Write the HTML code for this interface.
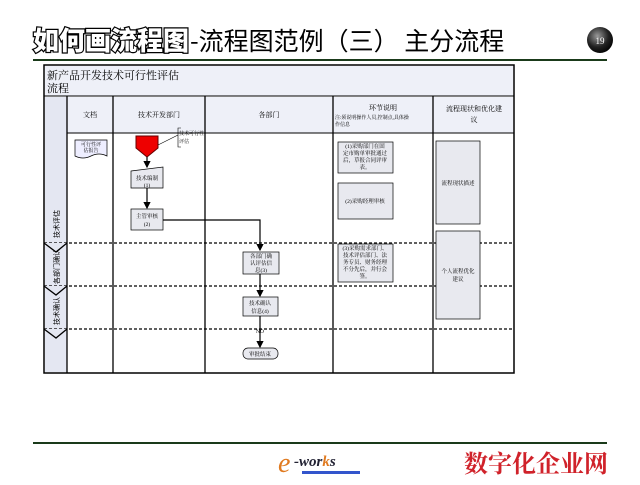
<!DOCTYPE html>
<html><head><meta charset="utf-8"><style>
body{margin:0;width:640px;height:480px;background:#fff;overflow:hidden;font-family:"Liberation Sans","Noto Sans CJK SC",sans-serif}
</style></head><body>
<svg width="640" height="480" xmlns="http://www.w3.org/2000/svg" font-family="Liberation Serif, Noto Serif CJK SC, serif">
<defs><marker id="a" markerWidth="6" markerHeight="6" refX="5" refY="3" orient="auto"><path d="M0,0L6,3L0,6z" fill="#000"/></marker>
<radialGradient id="g" cx="0.4" cy="0.35" r="0.7"><stop offset="0" stop-color="#999"/><stop offset="0.6" stop-color="#222"/><stop offset="1" stop-color="#000"/></radialGradient></defs>
<text x="33" y="50" font-size="26" font-family="Noto Sans CJK SC, sans-serif" font-weight="900" fill="#fff" stroke="#000" stroke-width="2.4" paint-order="stroke">如何画流程图</text>
<text x="190" y="50" font-size="25" font-family="Noto Sans CJK SC, sans-serif" fill="#000">-流程图范例（三） 主分流程</text>
<line x1="33" y1="60" x2="607" y2="60" stroke="#1a3a1a" stroke-width="2"/>
<circle cx="600" cy="40" r="13" fill="url(#g)"/><text x="600" y="44" font-size="9" fill="#fff" text-anchor="middle">19</text>
<rect x="44" y="65" width="470" height="308" fill="#fff" stroke="#000" stroke-width="1.5"/>
<rect x="45" y="66" width="468" height="30" fill="#eef0f8"/>
<line x1="44" y1="96" x2="514" y2="96" stroke="#000"/>
<text x="47" y="79" font-size="11">新产品开发技术可行性评估</text><text x="47" y="92" font-size="11">流程</text>
<rect x="45" y="97" width="22" height="275" fill="#e4e7f2"/>
<rect x="67" y="97" width="446" height="36" fill="#eef0f8"/>
<line x1="67" y1="133" x2="514" y2="133" stroke="#000"/>
<g stroke="#000" stroke-width="1.3"><line x1="67" y1="96" x2="67" y2="373"/><line x1="113" y1="96" x2="113" y2="373"/><line x1="205" y1="96" x2="205" y2="373"/><line x1="333" y1="96" x2="333" y2="373"/><line x1="433" y1="96" x2="433" y2="373"/></g>
<g font-size="7" text-anchor="middle"><text x="90" y="117">文档</text><text x="159" y="117">技术开发部门</text><text x="269" y="117">各部门</text><text x="383" y="110">环节说明</text><text x="474" y="111">流程现状和优化建</text><text x="474" y="122">议</text></g>
<text x="335" y="119" font-size="5">注:须说明操作人员,控制点,具体操</text><text x="335" y="126" font-size="5">作信息</text>
<g stroke="#000" stroke-width="1.3" stroke-dasharray="3,2"><line x1="44" y1="243" x2="514" y2="243"/><line x1="44" y1="286" x2="514" y2="286"/><line x1="44" y1="329" x2="514" y2="329"/></g>
<g fill="#e4e7f2" stroke="#000" stroke-width="1.3"><path d="M44,243L56,252L67,243"/><path d="M44,286L56,295L67,286"/><path d="M44,329L56,338L67,329"/></g>
<g font-size="7" font-family="Noto Sans CJK SC,sans-serif"><text transform="translate(59,238) rotate(-90)">技术评估</text><text transform="translate(59,284) rotate(-90)">各部门确认</text><text transform="translate(59,325) rotate(-90)">技术确认</text></g>
<path d="M75,140H107V156Q99,152 91,156T75,156Z" fill="#eef" stroke="#000" stroke-width="0.7"/>
<text x="91" y="146" font-size="5" text-anchor="middle">可行性评</text><text x="91" y="152" font-size="5" text-anchor="middle">估报告</text>
<path d="M136,136H158V148L147,157L136,148Z" fill="#e00" stroke="#600"/>
<line x1="158" y1="145" x2="178" y2="135" stroke="#000" stroke-width="0.6"/>
<path d="M181,128H178V147H181" fill="none" stroke="#000" stroke-width="0.6"/>
<text x="179" y="135" font-size="5">技术可行性</text><text x="179" y="143" font-size="5">评估</text>
<g stroke="#000" stroke-width="1.2" fill="none" marker-end="url(#a)"><line x1="147" y1="157" x2="147" y2="167"/><line x1="147" y1="188" x2="147" y2="208"/><path d="M163,220H260V250"/><line x1="260" y1="274" x2="260" y2="296"/><line x1="260" y1="316" x2="260" y2="347"/></g>
<g fill="#e8e9ef" stroke="#000" stroke-width="0.7"><path d="M131,171L163,167V188H131Z"/><rect x="131" y="209" width="32" height="21"/><rect x="243" y="252" width="36" height="22"/><rect x="243" y="297" width="35" height="19"/><rect x="243" y="348" width="35" height="11" rx="5"/>
<rect x="338" y="142" width="55" height="31"/><rect x="338" y="183" width="55" height="36"/><rect x="338" y="244" width="55" height="38"/><rect x="436" y="141" width="44" height="83"/><rect x="436" y="231" width="44" height="88"/></g>
<g font-size="5.5" text-anchor="middle"><text x="147" y="180">技术编制</text><text x="147" y="187">(1)</text><text x="147" y="218">主管审核</text><text x="147" y="226">(2)</text>
<text x="261" y="258">各部门确</text><text x="261" y="265">认评估信</text><text x="261" y="272">息(3)</text><text x="260" y="305">技术确认</text><text x="260" y="313">信息(4)</text><text x="260" y="333">NO</text><text x="260" y="356">审批结束</text>
<text x="365" y="148">(1)采购部门在固</text><text x="365" y="155">定市购单审批通过</text><text x="365" y="162">后，草报合同评审</text><text x="365" y="169">表。</text><text x="365" y="203">(2)采购经理审核</text>
<text x="365" y="250">(3)采购需求部门、</text><text x="365" y="257">技术评估部门、法</text><text x="365" y="264">务专员、财务经理</text><text x="365" y="271">不分先后，并行会</text><text x="365" y="278">签。</text>
<text x="458" y="185">流程现状描述</text><text x="458" y="273">个人流程优化</text><text x="458" y="281">建议</text></g>
<line x1="33" y1="443" x2="607" y2="443" stroke="#1a3a1a" stroke-width="2"/>
<text x="278" y="472" font-size="28" font-style="italic" fill="#e07a20" font-family="Liberation Serif,serif">e</text>
<text x="294" y="466" font-size="15" font-style="italic" font-weight="bold" fill="#223">-wor<tspan fill="#e07a20">k</tspan>s</text>
<rect x="302" y="471" width="58" height="3" fill="#3355cc"/>
<text x="464" y="472" font-size="24" fill="#d0222a" font-family="Noto Serif CJK SC,serif" font-weight="bold">数字化企业网</text>
</svg>
</body></html>
